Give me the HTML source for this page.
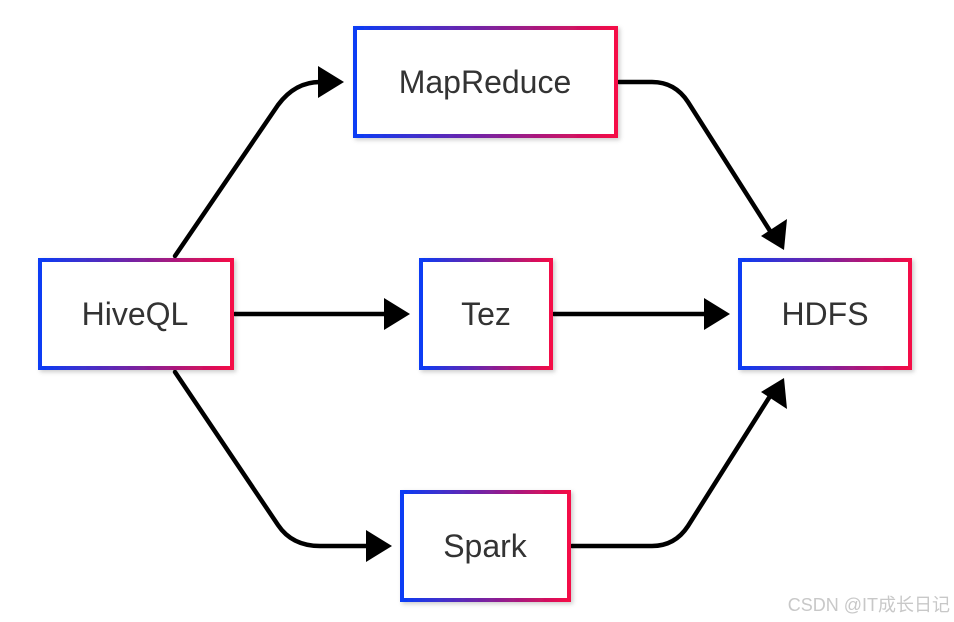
<!DOCTYPE html>
<html><head><meta charset="utf-8"><style>
html,body{margin:0;padding:0;background:#fff;width:954px;height:622px;overflow:hidden}
text{font-family:"Liberation Sans",Arial,sans-serif}
</style></head><body>
<svg width="954" height="622" viewBox="0 0 954 622" xmlns="http://www.w3.org/2000/svg">
<defs>
<linearGradient id="g" x1="0" y1="0" x2="1" y2="0">
<stop offset="0" stop-color="#0a3cf5"/><stop offset="0.5" stop-color="#7a22a0"/><stop offset="1" stop-color="#f50a46"/>
</linearGradient>
<filter id="s" x="-10%" y="-10%" width="130%" height="130%"><feDropShadow dx="2" dy="2" stdDeviation="2" flood-color="#000" flood-opacity="0.2"/></filter>
</defs>
<g fill="none" stroke="#000" stroke-width="4.5" stroke-linecap="round">
<path d="M175 256 L278 105 Q295 82 320 82"/>
<path d="M619 82 L652 82 Q675 82 688 102 L772 234"/>
<path d="M235 314 L388 314"/>
<path d="M554 314 L706 314"/>
<path d="M175 372 L278 525 Q292 546 320 546 L370 546"/>
<path d="M572 546 L652 546 Q675 546 688 526 L772 393"/>
</g>
<g fill="#000">
<polygon points="318,66 344,82 318,98"/>
<polygon points="784,250 761,236 787,219"/>
<polygon points="384,298 410,314 384,330"/>
<polygon points="704,298 730,314 704,330"/>
<polygon points="366,530 392,546 366,562"/>
<polygon points="784,378 787,409 761,392"/>
</g>
<g fill="#fff" stroke="url(#g)" stroke-width="4" filter="url(#s)">
<rect x="40" y="260" width="192" height="108"/>
<rect x="355" y="28" width="261" height="108"/>
<rect x="421" y="260" width="130" height="108"/>
<rect x="740" y="260" width="170" height="108"/>
<rect x="402" y="492" width="167" height="108"/>
</g>
<g font-size="32" fill="#333" text-anchor="middle">
<text x="135" y="325">HiveQL</text>
<text x="485" y="93">MapReduce</text>
<text x="486" y="325">Tez</text>
<text x="825" y="325">HDFS</text>
<text x="485" y="557">Spark</text>
</g>
<text x="950" y="611" font-size="18" fill="#c8c8c8" text-anchor="end" style='font-family:"Liberation Sans","Noto Sans CJK SC",sans-serif'>CSDN @IT成长日记</text>
</svg>
</body></html>
